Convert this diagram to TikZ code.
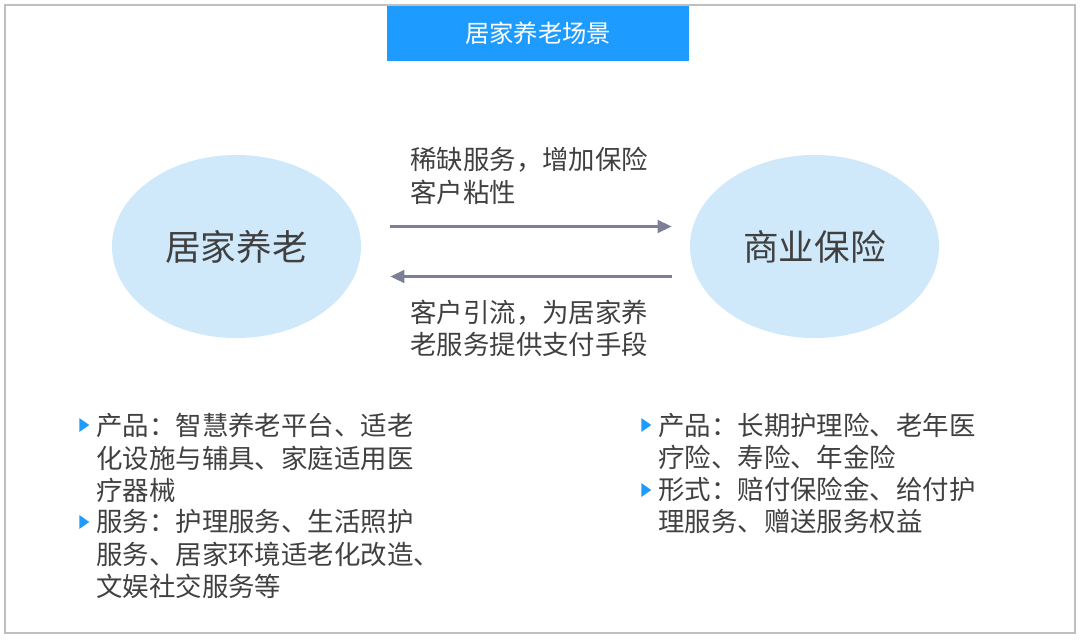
\documentclass[tikz,border=0pt]{standalone}
\usepackage{fontspec}
\setmainfont{Noto Sans CJK SC}
\usetikzlibrary{arrows.meta,positioning,shapes.geometric}

\definecolor{titleblue}{RGB}{30,155,255}
\definecolor{ellblue}{RGB}{207,232,250}
\definecolor{flowgray}{RGB}{124,127,150}
\definecolor{txtgray}{RGB}{64,64,64}
\definecolor{framegray}{RGB}{191,191,191}

\begin{document}
\begin{tikzpicture}[
  x=0.025cm, y=-0.025cm,
  >=Latex,
  role/.style={draw=none, ellipse, fill=ellblue, minimum width=6.225cm,
    minimum height=4.575cm, text=txtgray, font=\fontsize{25.3}{30}\selectfont},
  note/.style={align=left, inner sep=0pt, anchor=west, text=txtgray,
    font=\fontsize{18.8}{22.9}\selectfont},
  bullet/.style={isosceles triangle, isosceles triangle apex angle=70,
    fill=titleblue, inner sep=0pt, minimum height=7pt},
  flow/.style={draw=flowgray, line width=1.8pt,
    arrows={-Triangle[length=10pt, width=9pt]}}
]
  \useasboundingbox (0,0) rectangle (1080,640);
  \draw[framegray, line width=1.5pt] (5,5) rectangle (1075,633);

  \node[fill=titleblue, text=white, minimum width=7.55cm, minimum height=1.375cm,
    font=\fontsize{17.3}{20}\selectfont] (title) at (538,33.5) {居家养老场景};

  \node[role] (home) at (236.5,246.5) {居家养老};
  \node[role] (insure) at (814.5,246.5) {商业保险};

  \draw[flow, shorten <=0.725cm, shorten >=0.45cm]
    ([yshift=0.5cm]home.east) -- ([yshift=0.5cm]insure.west);
  \draw[flow, shorten <=0.45cm, shorten >=0.725cm]
    ([yshift=-0.75cm]insure.west) -- ([yshift=-0.75cm]home.east);

  \node[note] (gain) at (410,176) {稀缺服务，增加保险\\客户粘性};
  \node[note] (pay) at (410,328) {客户引流，为居家养\\老服务提供支付手段};

  % left list
  \node[note] (prodL) at (96,458) {产品：智慧养老平台、适老\\化设施与辅具、家庭适用医\\疗器械};
  \node[note] (servL) at (96,554) {服务：护理服务、生活照护\\服务、居家环境适老化改造、\\文娱社交服务等};
  \node[bullet] (b1) at (83,425) {};
  \node[bullet] (b2) at (83,522) {};

  % right list
  \node[note] (prodR) at (658,441.5) {产品：长期护理险、老年医\\疗险、寿险、年金险};
  \node[note] (formR) at (658,505) {形式：赔付保险金、给付护\\理服务、赠送服务权益};
  \node[bullet] (b3) at (645,425) {};
  \node[bullet] (b4) at (645,490) {};
\end{tikzpicture}
\end{document}
